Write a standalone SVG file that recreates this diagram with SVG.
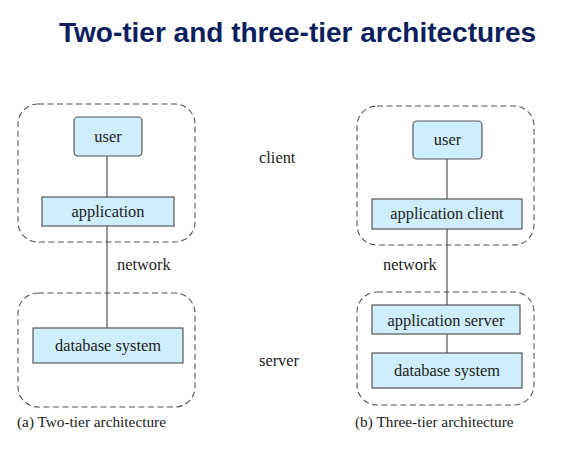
<svg xmlns="http://www.w3.org/2000/svg" width="569" height="466" viewBox="0 0 569 466">
<style>
.title{font-family:"Liberation Sans",Arial,sans-serif;font-weight:bold;font-size:28px;fill:#0b1f5e}
.lbl{font-family:"Liberation Serif","Times New Roman",serif;font-size:16.4px;fill:#222}
.cap{font-family:"Liberation Serif","Times New Roman",serif;font-size:15.3px;fill:#222}
.box{fill:#cdeefa;stroke:#555;stroke-width:1.2}
.tier{fill:none;stroke:#555;stroke-width:1.1;stroke-dasharray:6 3.5}
.conn{stroke:#444;stroke-width:1.1;fill:none}
</style>
<rect width="569" height="466" fill="#fff"/>
<text class="title" x="59" y="42">Two-tier and three-tier architectures</text>

<g id="tiers">
<rect class="tier" x="18" y="104" width="177" height="138" rx="20"/>
<rect class="tier" x="18" y="293" width="177" height="114" rx="20"/>
<rect class="tier" x="357" y="106" width="177" height="139" rx="20"/>
<rect class="tier" x="357" y="292" width="177" height="113" rx="20"/>
</g>

<g id="connectors">
<line class="conn" x1="107" y1="156" x2="107" y2="197"/>
<line class="conn" x1="107" y1="226" x2="107" y2="328"/>
<line class="conn" x1="447" y1="159" x2="447" y2="199"/>
<line class="conn" x1="447" y1="229" x2="447" y2="305"/>
<line class="conn" x1="447" y1="334" x2="447" y2="353"/>
</g>

<g id="user-a">
<rect class="box" x="74" y="117" width="68" height="39" rx="4"/>
<text class="lbl" x="108" y="142" text-anchor="middle">user</text>
</g>
<g id="application-a">
<rect class="box" x="42" y="197" width="132" height="29"/>
<text class="lbl" x="108" y="217" text-anchor="middle">application</text>
</g>
<g id="database-a">
<rect class="box" x="33" y="328" width="150" height="35"/>
<text class="lbl" x="108" y="351" text-anchor="middle">database system</text>
</g>

<g id="user-b">
<rect class="box" x="413" y="121" width="69" height="38" rx="4"/>
<text class="lbl" x="447.5" y="145" text-anchor="middle">user</text>
</g>
<g id="appclient-b">
<rect class="box" x="372" y="199" width="150" height="30"/>
<text class="lbl" x="447" y="219" text-anchor="middle">application client</text>
</g>
<g id="appserver-b">
<rect class="box" x="372" y="305" width="148" height="29"/>
<text class="lbl" x="446" y="326" text-anchor="middle">application server</text>
</g>
<g id="database-b">
<rect class="box" x="372" y="353" width="150" height="35"/>
<text class="lbl" x="447" y="376" text-anchor="middle">database system</text>
</g>

<g id="labels">
<text class="lbl" x="259" y="163">client</text>
<text class="lbl" x="259" y="366">server</text>
<text class="lbl" x="117" y="270">network</text>
<text class="lbl" x="383" y="270">network</text>
<text class="cap" x="17" y="427">(a) Two-tier architecture</text>
<text class="cap" x="355" y="427">(b) Three-tier architecture</text>
</g>
</svg>
